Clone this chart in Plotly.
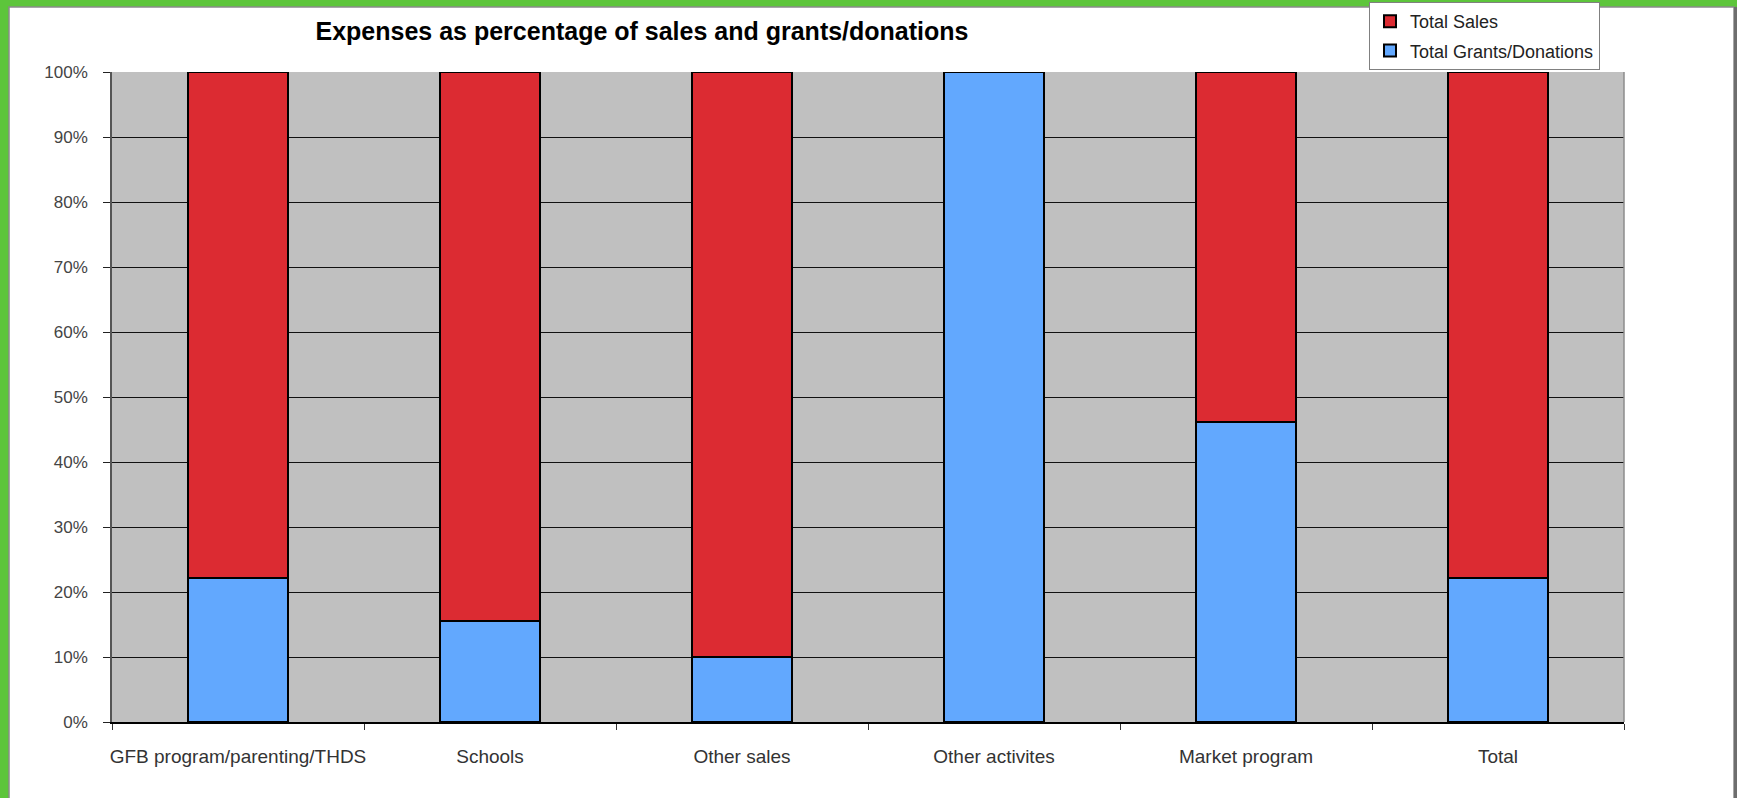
import plotly.graph_objects as go

categories = ["GFB program/parenting/THDS", "Schools", "Other sales",
              "Other activites", "Market program", "Total"]
grants_pct = [22.2, 15.5, 10.0, 100.0, 46.1, 22.2]
sales_pct = [77.8, 84.5, 90.0, 0.0, 53.9, 77.8]
y_ticks = [0, 10, 20, 30, 40, 50, 60, 70, 80, 90, 100]
y_tick_labels = [f"{v}%" for v in y_ticks]

W, H = 1737, 798
L, R, T, B = 112, 1624, 72, 722

def px(x):
    return (x - L) / (R - L)

def py(y):
    return (B - y) / (B - T)

fig = go.Figure()
fig.add_trace(go.Bar(
    x=categories, y=grants_pct, name="Total Grants/Donations",
    marker=dict(color="#62A8FE", line=dict(color="#000000", width=2)),
    legendgroup="g", legendrank=2, width=0.4))
fig.add_trace(go.Bar(
    x=categories, y=sales_pct, name="Total Sales",
    marker=dict(color="#DC2B32", line=dict(color="#000000", width=2)),
    legendgroup="s", legendrank=1, width=0.4))

shapes = [
    dict(type="rect", xref="paper", yref="paper", layer="below",
         x0=px(9), x1=px(1734), y0=py(805), y1=py(7),
         fillcolor="white", line=dict(color="#8a8a8a", width=1.5)),
    dict(type="rect", xref="paper", yref="paper", layer="below",
         x0=px(1734), x1=px(1737), y0=py(805), y1=py(7),
         fillcolor="#6e6e6e", line=dict(width=0)),
    dict(type="rect", xref="paper", yref="paper", layer="below",
         x0=0, x1=1, y0=0, y1=1,
         fillcolor="#C0C0C0", line=dict(width=0)),
    dict(type="line", xref="paper", yref="paper", x0=1, x1=1, y0=0, y1=1,
         line=dict(color="#8c8c8c", width=1.5)),
]

fig.update_layout(
    width=W, height=H,
    margin=dict(l=L, r=W - R, t=T, b=H - B, pad=0, autoexpand=False),
    paper_bgcolor="#5DC53B",
    plot_bgcolor="rgba(0,0,0,0)",
    barmode="stack",
    shapes=shapes,
    font=dict(family="Liberation Sans, Arial, sans-serif", size=17, color="#333333"),
    title=dict(text="<b>Expenses as percentage of sales and grants/donations</b>",
               x=px(642), xref="paper", xanchor="center",
               y=1 - 31 / H, yref="container", yanchor="middle",
               font=dict(family="Liberation Sans, Arial, sans-serif", size=25, color="#000000")),
    legend=dict(
        x=px(1369), y=py(2), xanchor="left", yanchor="top",
        bgcolor="white", bordercolor="#808080", borderwidth=1,
        traceorder="grouped", tracegroupgap=3,
        font=dict(family="Liberation Sans, Arial, sans-serif", size=18, color="#222222"),
        itemwidth=30,
    ),
    xaxis=dict(
        type="category", tickson="boundaries", ticks="outside", ticklen=6,
        tickcolor="#333333", tickwidth=1, tickangle=0,
        showline=True, linecolor="#000000", linewidth=1.5, mirror=False,
        showgrid=False, ticklabelstandoff=16,
        tickfont=dict(size=19, color="#333333"),
    ),
    yaxis=dict(
        range=[0, 100], tickmode="array", tickvals=y_ticks, ticktext=y_tick_labels,
        ticks="outside", ticklen=7, tickcolor="#222222",
        showline=True, linecolor="#555555", linewidth=1.5,
        showgrid=True, gridcolor="#111111", gridwidth=1.2,
        zeroline=False, ticklabelstandoff=12,
        tickfont=dict(size=17, color="#444444"),
    ),
    bargap=0.6,
)

fig.write_html("out.html")
